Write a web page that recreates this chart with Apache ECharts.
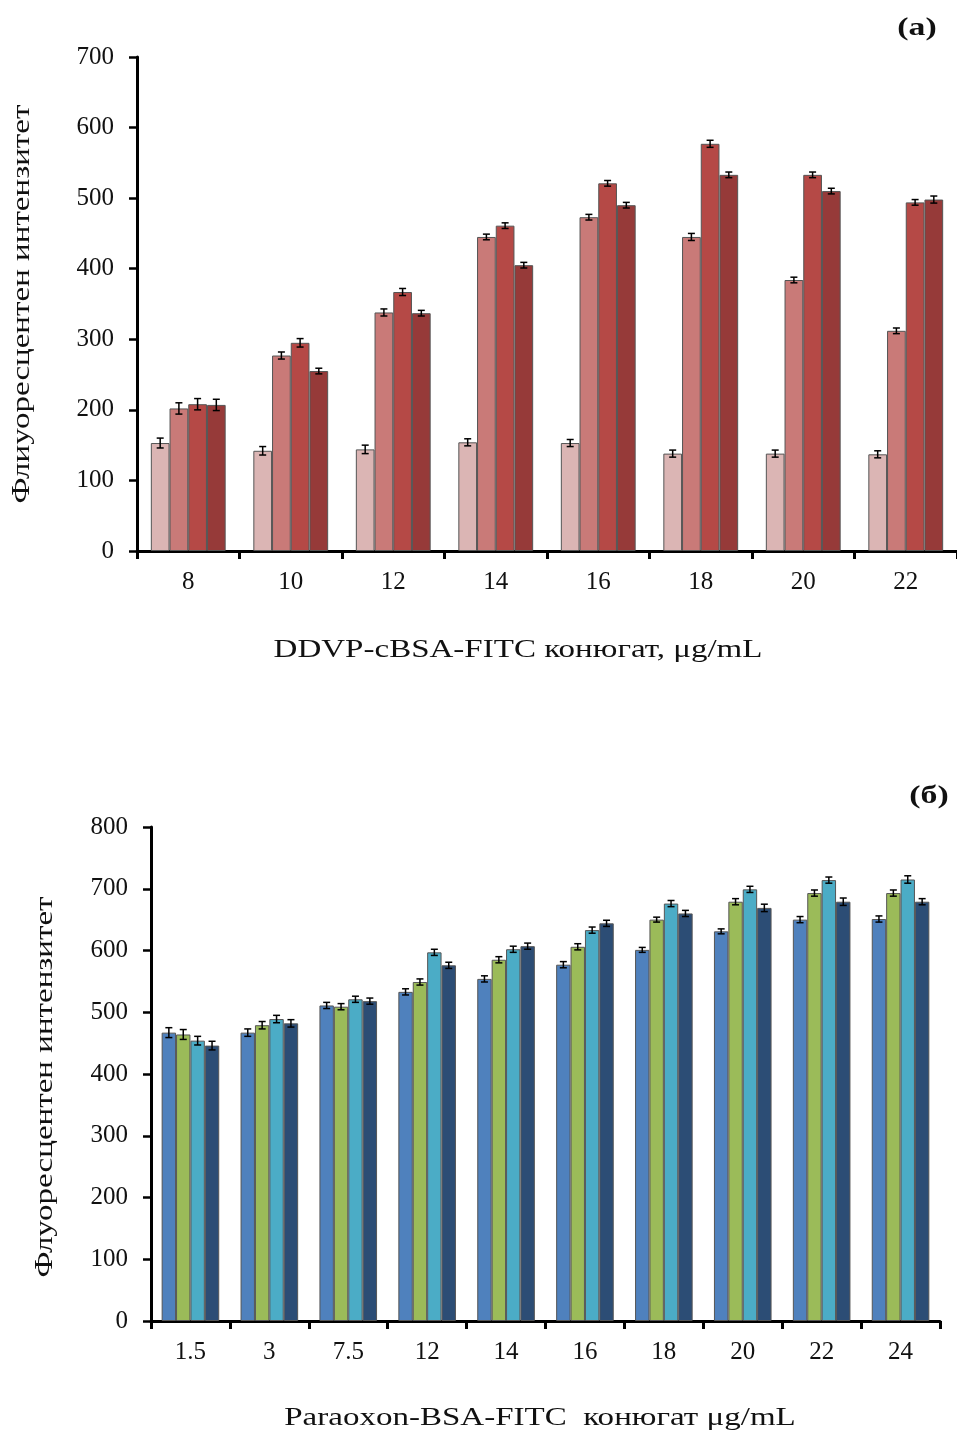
<!DOCTYPE html>
<html>
<head>
<meta charset="utf-8">
<script src="https://cdn.jsdelivr.net/npm/echarts@6/dist/echarts.min.js"></script>
<style>
  html, body { margin: 0; padding: 0; background: #fff; }
  #chart { width: 957px; height: 1432px; }
</style>
</head>
<body>
<div id="chart"></div>
<script>
// Panel (a): DDVP-cBSA-FITC conjugate
const catsA = ['8', '10', '12', '14', '16', '18', '20', '22'];
const a1 = [153, 142, 144, 154, 153, 138, 138, 137];
const a2 = [202, 277, 338, 445, 473, 445, 384, 312];
const a3 = [208, 295, 367, 461, 521, 577, 533, 494];
const a4 = [207, 255, 337, 405, 490, 533, 510, 498];
const errA1 = [7, 6, 6, 5, 5, 5, 5, 5];
const errA2 = [8, 5, 5, 4, 4, 5, 4, 4];
const errA3 = [8, 6, 5, 4, 4, 5, 4, 4];
const errA4 = [8, 4, 4, 4, 4, 4, 4, 5];
const yTicksA = { min: 0, max: 700, interval: 100 };

// Panel (б): Paraoxon-BSA-FITC conjugate
const catsB = ['1.5', '3', '7.5', '12', '14', '16', '18', '20', '22', '24'];
const b1 = [467, 467, 511, 533, 554, 577, 601, 631, 650, 651];
const b2 = [464, 479, 509, 549, 585, 606, 650, 679, 693, 693];
const b3 = [454, 489, 521, 597, 602, 633, 676, 699, 714, 715];
const b4 = [446, 482, 518, 576, 607, 644, 660, 669, 679, 679];
const errB1 = [8, 6, 5, 5, 5, 5, 4, 4, 5, 5];
const errB2 = [8, 6, 5, 5, 5, 5, 4, 5, 5, 5];
const errB3 = [7, 6, 5, 5, 5, 5, 5, 5, 5, 6];
const errB4 = [7, 6, 5, 5, 5, 5, 5, 6, 6, 5];
const yTicksB = { min: 0, max: 800, interval: 100 };

const colorsA = ['#dbb5b4', '#c97a78', '#b54946', '#963a39'];
const colorsB = ['#4f81bd', '#9bbb59', '#4bacc6', '#2c4d75'];

const FONT = '"Liberation Serif", "Times New Roman", serif';
const CAT_GAP = 0.27;

function xAxisFor(cats, gridIndex) {
  return {
    type: 'category', gridIndex, data: cats,
    axisLine: { lineStyle: { color: '#000', width: 3 } },
    axisTick: { show: true, length: 8, lineStyle: { color: '#000', width: 3 } },
    axisLabel: { color: '#111', fontFamily: FONT, fontSize: 25, margin: 19 },
    splitLine: { show: false }
  };
}
function yAxisFor(t, gridIndex) {
  return {
    type: 'value', gridIndex, min: t.min, max: t.max, interval: t.interval,
    axisLine: { show: true, lineStyle: { color: '#000', width: 3 } },
    axisTick: { show: true, length: 8, lineStyle: { color: '#000', width: 2.5 } },
    axisLabel: { color: '#111', fontFamily: FONT, fontSize: 25, margin: 23 },
    splitLine: { show: false }
  };
}

function barSeries(values, color, axisIndex) {
  return {
    type: 'bar', xAxisIndex: axisIndex, yAxisIndex: axisIndex,
    data: values, barGap: '0%', barCategoryGap: (CAT_GAP * 100) + '%',
    itemStyle: { color, borderColor: '#555', borderWidth: 1 },
    silent: true, animation: false
  };
}

// Error bars drawn over bar k of each group
function errorSeries(values, errs, k, axisIndex) {
  return {
    type: 'custom', xAxisIndex: axisIndex, yAxisIndex: axisIndex,
    data: values.map((v, i) => [i, v, errs[i]]),
    encode: { x: 0, y: 1 },
    z: 10, silent: true, animation: false,
    renderItem(params, api) {
      const i = api.value(0), v = api.value(1), e = api.value(2);
      const band = api.size([1, 0])[0];
      const bw = band * (1 - CAT_GAP) / 4;
      const c = api.coord([i, v]);
      const x = c[0] + (k - 1.5) * bw;
      const yHi = api.coord([i, v + e])[1];
      const yLo = api.coord([i, v - e])[1];
      const cap = 3.5;
      const style = { stroke: '#000', lineWidth: 1.5 };
      return {
        type: 'group',
        children: [
          { type: 'line', shape: { x1: x, y1: yHi, x2: x, y2: yLo }, style },
          { type: 'line', shape: { x1: x - cap, y1: yHi, x2: x + cap, y2: yHi }, style },
          { type: 'line', shape: { x1: x - cap, y1: yLo, x2: x + cap, y2: yLo }, style }
        ]
      };
    }
  };
}

const seriesA = [a1, a2, a3, a4];
const errsA = [errA1, errA2, errA3, errA4];
const seriesB = [b1, b2, b3, b4];
const errsB = [errB1, errB2, errB3, errB4];

const series = [];
seriesA.forEach((s, k) => series.push(barSeries(s, colorsA[k], 0)));
seriesB.forEach((s, k) => series.push(barSeries(s, colorsB[k], 1)));
seriesA.forEach((s, k) => series.push(errorSeries(s, errsA[k], k, 0)));
seriesB.forEach((s, k) => series.push(errorSeries(s, errsB[k], k, 1)));

const textStyle = (s, font) => ({
  text: s, fill: '#111', font: font || ('26px ' + FONT),
  textAlign: 'center', textVerticalAlign: 'middle'
});

// Titles use a slightly widened serif face
const WIDE = 1.27;

const chart = echarts.init(document.getElementById('chart'), null, { renderer: 'canvas' });
chart.setOption({
  backgroundColor: '#fff',
  animation: false,
  grid: [
    { left: 137, right: 0, top: 57, height: 494 },
    { left: 151, right: 17, top: 827, height: 494 }
  ],
  xAxis: [xAxisFor(catsA, 0), xAxisFor(catsB, 1)],
  yAxis: [yAxisFor(yTicksA, 0), yAxisFor(yTicksB, 1)],
  series,
  graphic: [
    { type: 'text', x: 518, y: 650, scaleX: WIDE, style: textStyle('DDVP-cBSA-FITC конюгат, μg/mL') },
    { type: 'text', x: 540, y: 1418, scaleX: WIDE, style: textStyle('Paraoxon-BSA-FITC  конюгат μg/mL') },
    { type: 'text', x: 22, y: 304, rotation: Math.PI / 2, scaleX: WIDE, style: textStyle('Флиуоресцентен интензитет') },
    { type: 'text', x: 45, y: 1087, rotation: Math.PI / 2, scaleX: WIDE, style: textStyle('Флуоресцентен интензитет') },
    { type: 'text', x: 917, y: 28, scaleX: 1.3, style: textStyle('(a)', 'bold 26px ' + FONT) },
    { type: 'text', x: 929, y: 796, scaleX: 1.3, style: textStyle('(б)', 'bold 26px ' + FONT) }
  ]
});
</script>
</body>
</html>
